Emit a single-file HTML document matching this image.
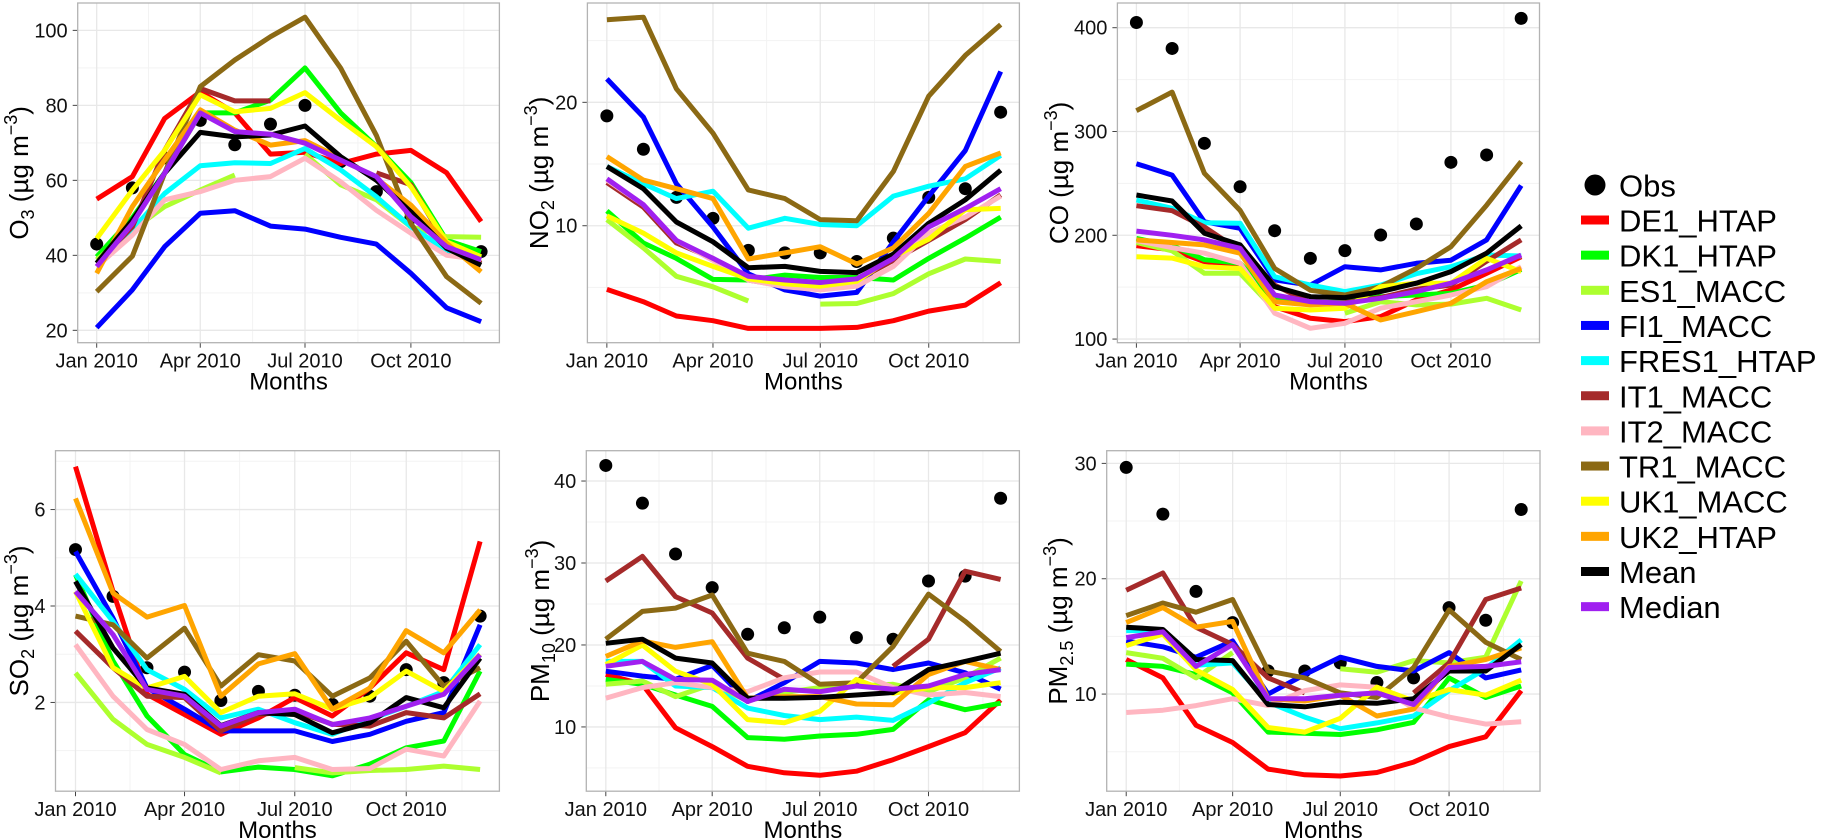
<!DOCTYPE html>
<html><head><meta charset="utf-8"><style>
html,body{margin:0;padding:0;background:#fff}
svg{display:block;font-family:"Liberation Sans",Arial,sans-serif}
</style></head><body>
<svg id="chart" width="1826" height="839" viewBox="0 0 1826 839" xmlns="http://www.w3.org/2000/svg"></svg>
<script>
// ---- shared data ----
const months = ['2010-01-01','2010-02-01','2010-03-01','2010-04-01','2010-05-01','2010-06-01','2010-07-01','2010-08-01','2010-09-01','2010-10-01','2010-11-01','2010-12-01'];
const xTickDates = ['2010-01-01','2010-04-01','2010-07-01','2010-10-01'];
const xTickLabels = ['Jan 2010','Apr 2010','Jul 2010','Oct 2010'];
const seriesNames = ['DE1_HTAP','DK1_HTAP','ES1_MACC','FI1_MACC','FRES1_HTAP','IT1_MACC','IT2_MACC','TR1_MACC','UK1_MACC','UK2_HTAP','Mean','Median'];
const seriesColors = ['#ff0000','#00ff00','#adff2f','#0000ff','#00ffff','#a52a2a','#ffb6c1','#8b6914','#ffff00','#ffa500','#000000','#a020f0'];

// ---- O3 ----
const o3Obs = [43,58,66,76,69.5,75,80,65,57,50,42,41];
const o3DE1 = [55,61,76.5,83.6,78,67,67.5,64.5,67,68,62,49];
const o3DK1 = [39.6,50,62,78,78,81.4,90,78,69,59.4,44,41];
const o3ES1 = [38.8,46.8,53,57.4,61.4,null,67,58.8,54.8,47.6,45,44.8];
const o3FI1 = [20.7,30.8,42.3,51.2,51.9,47.8,47,44.8,43,35.2,26,22.3];
const o3FRES1 = [37.9,46.8,56.5,63.9,64.7,64.5,68.5,62.8,55.6,47.6,41.4,39.2];
const o3IT1 = [37.9,47.6,68,84.5,81.2,81.2,null,null,62,58.8,42.8,37.9];
const o3IT2 = [37,45.4,54.8,57,60,61,65.9,59.6,52,45.9,40,38.8];
const o3TR1 = [30.3,39.8,61.9,85,92.1,98.3,103.5,89.9,72,48.5,34.3,27.2];
const o3UK1 = [44.5,57.4,68,82.8,78.3,79.2,83.4,76,69,58.3,43.6,39.6];
const o3UK2 = [35.2,53,65.4,78.8,73.4,69.4,70.6,65.9,60.5,53.4,43.2,35.6];
const o3Mean = [37.9,49.4,61.9,72.8,71.6,72.1,74.5,66.3,60,51.6,41.9,37.4];
const o3Median = [37,48.5,61.9,78,73,72.3,69.9,65.4,61,50.3,42.3,38.8];
const o3Ticks = [20,40,60,80,100];

// ---- NO2 ----
const no2Obs = [18.9,16.2,12.3,10.6,8.0,7.8,7.8,7.1,9.0,12.3,13.0,19.2];
const no2DE1 = [4.84,3.84,2.68,2.3,1.68,1.68,1.68,1.76,2.3,3.08,3.57,5.38];
const no2DK1 = [11.2,8.6,7.35,5.65,5.6,6.0,5.8,5.8,5.6,7.35,9.0,10.7];
const no2ES1 = [10.5,8.2,5.9,5.05,3.9,null,3.65,3.7,4.5,6.1,7.3,7.1];
const no2FI1 = [21.9,18.8,13.4,9.9,6.1,4.8,4.3,4.6,8.7,12.4,16.1,22.5];
const no2FRES1 = [14.8,13.4,12.2,12.8,9.8,10.6,10.1,10.0,12.4,13.2,13.8,15.7];
const no2IT1 = [13.5,11.5,8.6,7.35,5.6,5.1,5.1,5.6,7.2,8.8,10.5,12.5];
const no2IT2 = [13.7,11.7,8.8,7.2,5.6,5.05,4.8,5.1,6.7,9.4,10.7,12.4];
const no2TR1 = [26.7,26.9,21.1,17.5,12.9,12.2,10.5,10.4,14.4,20.5,23.8,26.3];
const no2UK1 = [10.8,9.4,7.8,6.7,5.7,5.3,5.1,5.5,7.5,8.9,11.3,11.4];
const no2UK2 = [15.6,13.7,13.0,12.2,7.3,7.8,8.3,6.9,8.2,11.0,14.8,15.9];
const no2Mean = [14.8,13.0,10.3,8.7,6.6,6.7,6.3,6.2,7.7,10.2,12.1,14.5];
const no2Median = [13.8,11.7,8.8,7.35,5.9,5.6,5.4,5.7,7.35,9.9,11.4,13.0];
const no2Ticks = [10,20];

// ---- CO ----
const coObs = [405,380,288.6,246.8,204.4,177.8,185.2,200.3,210.9,270.3,277.4,409];
const coDE1 = [190,186,174.6,171.4,131.2,120,116.8,121.6,137.7,147.3,163.4,179.4];
const coDK1 = [197,190,176.5,173,137.7,134.5,136,140.8,142.5,144,152,167];
const coES1 = [193,185,163.4,163.4,128.3,null,124.9,136,132.9,133.7,139.3,128];
const coFI1 = [269,258,213,206.7,157,152,169.7,166.6,173,176,195.5,248];
const coFRES1 = [234,226,212,211.6,160,152,145.7,152,163,169.7,181,180];
const coIT1 = [228.5,223.7,208,185,152,135,135,140,148,152,175,195.5];
const coIT2 = [195,188,182.7,173,124.9,110.4,115.2,129.7,136,142.5,150.5,169.7];
const coTR1 = [320,338,259.7,224,168,147,142.5,150.5,168,189,229,271];
const coUK1 = [179.4,178,169.7,168,129.7,128,129.7,150.5,153.8,153.8,177.8,165];
const coUK2 = [195.5,193,190.7,182.7,136,132.9,134.5,118.4,126.4,134.5,155.3,168];
const coMean = [238.8,233,202,190.7,150.5,140.8,140,145.7,153.8,165,182.7,209];
const coMedian = [204,200,195.5,187.5,142.5,136,134.5,139.3,145.7,153.8,166.6,181];
const coTicks = [100,200,300,400];

// ---- SO2 ----
const so2Obs = [5.17,4.2,2.72,2.63,2.04,2.23,2.15,1.96,2.13,2.68,2.41,3.79];
const so2DE1 = [6.89,4.3,2.17,1.75,1.34,1.68,2.1,1.72,2.3,3.03,2.68,5.34];
const so2DK1 = [4.65,2.86,1.72,0.92,0.56,0.66,0.61,0.48,0.72,1.06,1.2,2.65];
const so2ES1 = [2.61,1.65,1.13,0.86,0.54,null,0.65,0.54,0.59,0.61,0.68,0.61];
const so2FI1 = [5.13,3.75,2.3,1.86,1.41,1.41,1.41,1.19,1.34,1.61,1.79,3.61];
const so2FRES1 = [4.66,3.68,2.68,2.27,1.68,1.86,1.58,1.34,1.65,1.92,2.23,3.2];
const so2IT1 = [3.48,2.72,2.13,2.1,1.41,1.75,1.82,1.55,1.51,1.79,1.68,2.18];
const so2IT2 = [3.2,2.13,1.44,1.13,0.61,0.79,0.86,0.61,0.63,1.03,0.89,2.03];
const so2TR1 = [3.79,3.61,2.92,3.54,2.34,2.99,2.86,2.13,2.51,3.27,2.34,2.72];
const so2UK1 = [4.3,2.72,2.3,2.54,1.79,2.13,2.18,1.86,2.1,2.65,2.23,3.0];
const so2UK2 = [6.23,4.27,3.77,4.01,2.13,2.8,3.01,1.86,2.3,3.49,3.03,3.92];
const so2Mean = [4.51,3.13,2.3,2.17,1.52,1.79,1.75,1.37,1.58,2.1,1.89,2.92];
const so2Median = [4.3,3.41,2.27,2.13,1.51,1.79,1.86,1.54,1.68,1.92,2.17,2.99];
const so2Ticks = [2,4,6];

// ---- PM10 ----
const pm10Obs = [41.9,37.3,31.1,27,21.3,22.1,23.4,20.9,20.7,27.8,28.4,37.9];
const pm10DE1 = [16.4,15.2,9.9,7.6,5.2,4.4,4.1,4.6,6.0,7.6,9.3,13.3];
const pm10DK1 = [15.8,15.2,13.9,12.5,8.7,8.5,8.9,9.1,9.7,13.3,12.1,12.9];
const pm10ES1 = [15.2,15.6,13.7,15.2,13.2,14.2,14.8,15.0,15.2,14.3,16,18.4];
const pm10FI1 = [16.8,16.2,15.8,17.5,13.1,15.4,18,17.8,17,17.8,16.6,14.6];
const pm10FRES1 = [18,18,15,14.8,12.3,11.4,10.9,11.2,10.8,12.9,15.4,17.2];
const pm10IT1 = [27.8,30.8,25.9,23.9,18.4,15.8,null,null,17.4,20.7,29,28];
const pm10IT2 = [13.5,14.8,15.4,14.8,14.3,16,16.7,16.7,14.8,13.9,14.2,13.7];
const pm10TR1 = [20.7,24.1,24.5,26.1,19,18,15.2,15.4,19.8,26.2,22.9,19.2];
const pm10UK1 = [17.6,20,16.8,15.2,10.9,10.5,11.9,15.8,14.1,14.8,14.8,15.4];
const pm10UK2 = [18.6,20.5,19.7,20.4,13.5,13.7,13.7,12.8,12.7,16.4,18,17];
const pm10Mean = [20.2,20.7,18.4,17.8,13.5,13.5,13.6,13.9,14.2,17,18,19];
const pm10Median = [17.4,18,15.8,15.7,13.1,14.6,14.3,15,14.6,15,16.4,17];
const pm10Ticks = [10,20,30,40];

// ---- PM2.5 ----
const pm25Obs = [29.65,25.6,18.9,16.2,12,12,12.7,11,11.4,17.5,16.4,26];
const pm25DE1 = [13,11.4,7.3,5.8,3.5,3.0,2.9,3.2,4.1,5.45,6.3,10.3];
const pm25DK1 = [12.6,12.4,11.7,10.1,6.7,6.6,6.5,6.9,7.55,11.4,9.7,10.7];
const pm25ES1 = [13.6,13.1,11.4,13.6,null,null,12.2,11.9,12.9,12.7,13.2,19.8];
const pm25FI1 = [14.6,14.1,13.2,14.6,10,11.7,13.2,12.4,12,13.6,11.4,12.1];
const pm25FRES1 = [15.5,15.5,12.5,12.7,9.3,8,7,7.5,8.1,10.3,12.2,14.7];
const pm25IT1 = [19,20.5,15.8,14.3,11.4,10.1,null,null,10.1,12.7,18.2,19.2];
const pm25IT2 = [8.4,8.6,9,9.6,9,10.3,10.8,10.6,8.8,8,7.4,7.6];
const pm25TR1 = [16.8,17.9,17.1,18.2,12,11.4,10.1,9.7,12.3,17.3,14.5,13];
const pm25UK1 = [14.2,15.2,12.1,10.4,7.1,6.7,7.9,10.6,9.4,10.4,9.9,11.2];
const pm25UK2 = [16.2,17.5,15.8,16.3,9.6,9.4,9.9,8.1,8.7,12.4,13,14];
const pm25Mean = [15.8,15.6,13,12.9,9.1,8.9,9.3,9.2,9.6,12,12,14.3];
const pm25Median = [14.9,15.4,12.4,14.3,9.6,9.6,9.9,10.1,9.1,12.3,12.4,12.8];
const pm25Ticks = [10,20,30];

// ---- layout (not data) ----
const panels = [
 {id:'o3',  left:77.7, right:499.4, top:3, bottom:342.7, vmin:16.7, vmax:107.3, ticks:o3Ticks, titleX:19, tA:'O', tS:'3',
  obs:o3Obs, series:[o3DE1,o3DK1,o3ES1,o3FI1,o3FRES1,o3IT1,o3IT2,o3TR1,o3UK1,o3UK2,o3Mean,o3Median]},
 {id:'no2', left:587.4, right:1019.4, top:3, bottom:342.7, vmin:0.52, vmax:28.05, ticks:no2Ticks, titleX:539, tA:'NO', tS:'2',
  obs:no2Obs, series:[no2DE1,no2DK1,no2ES1,no2FI1,no2FRES1,no2IT1,no2IT2,no2TR1,no2UK1,no2UK2,no2Mean,no2Median]},
 {id:'co',  left:1117.4, right:1539.5, top:3, bottom:342.7, vmin:96.5, vmax:423.8, ticks:coTicks, titleX:1059, tA:'CO', tS:'',
  obs:coObs, series:[coDE1,coDK1,coES1,coFI1,coFRES1,coIT1,coIT2,coTR1,coUK1,coUK2,coMean,coMedian]},
 {id:'so2', left:55.5, right:499.4, top:450.7, bottom:791.2, vmin:0.16, vmax:7.22, ticks:so2Ticks, titleX:19, tA:'SO', tS:'2',
  obs:so2Obs, series:[so2DE1,so2DK1,so2ES1,so2FI1,so2FRES1,so2IT1,so2IT2,so2TR1,so2UK1,so2UK2,so2Mean,so2Median]},
 {id:'pm10', left:586.3, right:1019.4, top:450.7, bottom:791.2, vmin:2.16, vmax:43.7, ticks:pm10Ticks, titleX:540, tA:'PM', tS:'10',
  obs:pm10Obs, series:[pm10DE1,pm10DK1,pm10ES1,pm10FI1,pm10FRES1,pm10IT1,pm10IT2,pm10TR1,pm10UK1,pm10UK2,pm10Mean,pm10Median]},
 {id:'pm25', left:1106.7, right:1540, top:450.7, bottom:791.2, vmin:1.58, vmax:31.1, ticks:pm25Ticks, titleX:1058, tA:'PM', tS:'2.5',
  obs:pm25Obs, series:[pm25DE1,pm25DK1,pm25ES1,pm25FI1,pm25FRES1,pm25IT1,pm25IT2,pm25TR1,pm25UK1,pm25UK2,pm25Mean,pm25Median]}
];

const NS = 'http://www.w3.org/2000/svg';
const svg = document.getElementById('chart');
function mk(tag, attrs, parent){ const e=document.createElementNS(NS,tag); for(const k in attrs) e.setAttribute(k,attrs[k]); (parent||svg).appendChild(e); return e; }
const DAY0 = Date.UTC(2010,0,1);
function dayOf(s){ const p=s.split('-'); return (Date.UTC(+p[0],+p[1]-1,+p[2])-DAY0)/86400000; }
const DMIN=-16.5, DMAX=349.9;

panels.forEach(p=>{
  const xs = d => p.left + (d-DMIN)/(DMAX-DMIN)*(p.right-p.left);
  const ys = v => p.bottom - (v-p.vmin)/(p.vmax-p.vmin)*(p.bottom-p.top);
  const g = mk('g',{});
  
  
  const bg = mk('rect',{x:p.left,y:p.top,width:p.right-p.left,height:p.bottom-p.top,fill:'#fff'},g);
  
  
  // minor grid
  const step = p.ticks[1]-p.ticks[0];
  for(let v=p.ticks[0]-step/2; v<=p.vmax; v+=step){ if(v<p.vmin) continue;
    const l=mk('line',{x1:p.left,x2:p.right,y1:ys(v),y2:ys(v),stroke:'#f3f3f3','stroke-width':1},g);
      }
  const xt = xTickDates.map(dayOf);
  const xminor = [];
  for(let i=0;i<xt.length-1;i++) xminor.push((xt[i]+xt[i+1])/2);
  xminor.push(xt[3]+(xt[3]-xt[2])/2);
  xminor.forEach(d=>{ const l=mk('line',{x1:xs(d),x2:xs(d),y1:p.top,y2:p.bottom,stroke:'#f3f3f3','stroke-width':1},g);
      });
  // major grid + y ticks
  p.ticks.forEach(v=>{
    const l=mk('line',{x1:p.left,x2:p.right,y1:ys(v),y2:ys(v),stroke:'#e8e8e8','stroke-width':1.3},g);
     
    const t=mk('line',{x1:p.left-5,x2:p.left,y1:ys(v),y2:ys(v),stroke:'#444','stroke-width':1},g);
     
    const tx=mk('text',{x:p.left-10,y:ys(v)+7,'text-anchor':'end','font-size':20,fill:'#111'},g);
    tx.textContent=String(v);
     
  });
  xt.forEach((d,i)=>{
    const l=mk('line',{x1:xs(d),x2:xs(d),y1:p.top,y2:p.bottom,stroke:'#e8e8e8','stroke-width':1.3},g);
     
    const t=mk('line',{x1:xs(d),x2:xs(d),y1:p.bottom,y2:p.bottom+5,stroke:'#444','stroke-width':1},g);
     
    const tx=mk('text',{x:xs(d),y:p.bottom+25,'text-anchor':'middle','font-size':20,fill:'#111'},g);
    tx.textContent=xTickLabels[i];
     
  });
  // obs points
  const md = months.map(dayOf);
  p.obs.forEach((v,i)=>{ if(v==null) return;
    const c=mk('circle',{cx:xs(md[i]),cy:ys(v),r:6.5,fill:'#000'},g);
      });
  // series lines
  p.series.forEach((arr,si)=>{
    let segs=[], cur=[];
    arr.forEach((v,i)=>{ if(v==null){ if(cur.length) segs.push(cur); cur=[]; } else cur.push(xs(md[i]).toFixed(1)+','+ys(v).toFixed(1)); });
    if(cur.length) segs.push(cur);
    segs.forEach(s=>{ if(s.length<2) return;
      const pl=mk('polyline',{points:s.join(' '),fill:'none',stroke:seriesColors[si],'stroke-width':5,'stroke-linejoin':'round'},g);
      
      
    });
  });
  const br = mk('rect',{x:p.left,y:p.top,width:p.right-p.left,height:p.bottom-p.top,fill:'none',stroke:'#b3b3b3','stroke-width':1.3},g);
  
  
  // x title
  const xtl=mk('text',{x:(p.left+p.right)/2,y:p.bottom+47,'text-anchor':'middle','font-size':24,fill:'#000'},g);
  xtl.textContent='Months';
   
  // y title
  const cy=(p.top+p.bottom)/2;
  const yt=mk('text',{x:p.titleX+9,y:cy,'text-anchor':'middle','font-size':26,fill:'#000',transform:'rotate(-90 '+(p.titleX+9)+' '+cy+')'},g);
   
  const a=document.createElementNS(NS,'tspan'); a.textContent=p.tA; yt.appendChild(a);
  if(p.tS){ const s=document.createElementNS(NS,'tspan'); s.setAttribute('font-size','18'); s.setAttribute('dy','6'); s.textContent=p.tS; yt.appendChild(s); }
  const b=document.createElementNS(NS,'tspan'); b.setAttribute('dy', p.tS?'-6':'0'); b.textContent=' (\u00b5g m'; yt.appendChild(b);
  const sp=document.createElementNS(NS,'tspan'); sp.setAttribute('font-size','18'); sp.setAttribute('dy','-11'); sp.textContent='\u22123'; yt.appendChild(sp);
  const c2=document.createElementNS(NS,'tspan'); c2.setAttribute('dy','11'); c2.textContent=')'; yt.appendChild(c2);
});

// legend
const lg = mk('g',{});


const ob = mk('circle',{cx:1595,cy:185,r:10.5,fill:'#000'},lg);
 
const ot = mk('text',{x:1619,y:196.5,'font-size':31,fill:'#000'},lg);
ot.textContent='Obs';
 
seriesNames.forEach((n,i)=>{
  const cy = 220 + i*35.15;
  const k = mk('rect',{x:1581,y:cy-4.5,width:28,height:9,fill:seriesColors[i]},lg);
   
  const t = mk('text',{x:1619,y:cy+11.5,'font-size':31,fill:'#000'},lg);
  t.textContent=n;
   
});
</script>
</body></html>
